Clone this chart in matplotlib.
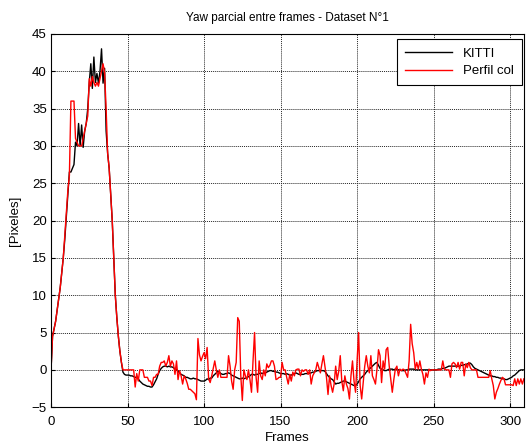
import numpy as np
import matplotlib
matplotlib.use("Agg")
import matplotlib.pyplot as plt

plt.rcParams['font.family'] = ['Liberation Sans', 'DejaVu Sans']

# Yaw per frame (pixels)
kitti = [
    0, 4.5, 5.5, 6.5, 8, 9.5, 11, 13, 15, 17.5,
    20.5, 23.5, 26.5, 26.5, 27, 27.5, 30.5, 30, 33, 30,
    32.8, 29.8, 32, 33, 35, 38.5, 41, 37.7, 41.9, 38.5,
    39.7, 38.4, 40, 43, 38.4, 40.4, 32, 29, 27, 23.5,
    20, 15, 10, 7, 4.5, 2.5, 1, -0.3, -0.6, -0.7,
    -0.7, -0.7, -0.8, -0.8, -0.9, -1, -1, -1.2, -1.5, -1.7,
    -1.9, -2, -2.1, -2.2, -2.2, -2.3, -2.3, -2, -1.6, -1.2,
    -0.6, -0.1, 0.2, 0.4, 0.5, 0.5, 0.4, 0.5, 0.4, 0.4,
    0.3, 0.1, 0.1, -0.2, -0.4, -0.6, -0.7, -0.8, -1, -1,
    -1.1, -1.2, -1.2, -1.1, -1.2, -1.2, -1.3, -1.4, -1.5, -1.5,
    -1.5, -1.4, -1.2, -1.3, -1.1, -1.1, -0.8, -0.6, -0.4, -0.2,
    -0.3, -0.5, -0.6, -0.6, -0.5, -0.5, -0.4, -0.5, -0.7, -0.8,
    -0.9, -1, -1.1, -1.2, -1.2, -1.1, -1.2, -1.1, -1.1, -0.9,
    -0.8, -0.6, -0.6, -0.7, -0.6, -0.6, -0.5, -0.4, -0.5, -0.4,
    -0.4, -0.3, -0.2, -0.1, -0.1, -0.2, -0.2, -0.3, -0.3, -0.4,
    -0.5, -0.5, -0.5, -0.6, -0.5, -0.6, -0.7, -0.7, -0.6, -0.5,
    -0.4, -0.5, -0.6, -0.6, -0.6, -0.6, -0.5, -0.5, -0.5, -0.45,
    -0.4, -0.3, -0.3, -0.2, -0.1, -0.1, -0.1, -0.1, -0.1, -0.2,
    -0.5, -0.8, -1, -1.2, -1.3, -1.6, -1.9, -1.8, -1.8, -1.7,
    -1.6, -1.5, -1.5, -1.6, -1.7, -1.8, -1.9, -2, -2.1, -2.1,
    -1.9, -1.6, -1.2, -1, -0.8, -0.6, -0.3, -0.1, 0.1, 0.3,
    0.5, 0.7, 0.9, 1, 0.6, 0.2, 0.1, 0, -0.1, -0.1,
    0, 0.1, 0.1, 0.1, 0, 0.1, 0.1, 0, 0, -0.1,
    -0.1, -0.1, 0, 0, 0.1, 0.1, 0.1, 0.1, 0, 0,
    0, 0, 0, 0, 0, 0, 0, 0, 0, 0,
    0, 0, 0, 0.1, 0.1, 0.1, 0.2, 0.2, 0.3, 0.4,
    0.5, 0.5, 0.5, 0.5, 0.5, 0.5, 0.5, 0.5, 0.6, 0.6,
    0.7, 0.7, 0.8, 0.9, 0.9, 0.7, 0.4, 0.2, 0.1, 0,
    -0.1, -0.2, -0.3, -0.4, -0.5, -0.6, -0.7, -0.8, -0.8, -0.9,
    -0.9, -1, -1, -1.1, -1.1, -1.2, -1.2, -1.3, -1.3, -1.2,
    -1.1, -1, -0.8, -0.7, -0.5, -0.3, -0.1, 0, 0, 0,
]

perfil = [
    0, 4.5, 5.5, 6.5, 8, 9.5, 11, 13, 15, 18,
    21, 24, 26, 36, 36, 36, 31, 30.5, 30, 30,
    30, 31, 32, 33, 34, 39, 38, 39.3, 38.5, 38,
    38.5, 38, 39, 40, 41, 39.8, 35, 29, 27, 23.5,
    20, 15, 10, 7, 4.5, 2.5, 1, 0, 0, 0,
    0, 0, 0, 0, 0, -2.3, -0.5, -1.5, 0, 0,
    0, -1, -1, -1, -1.5, -1.5, -2.1, -1, -1, -0.6,
    -0.6, 0.5, 1, 1, 1.2, 0.5, 1, 1.9, 0.5, 1.2,
    0.8, -0.6, 1.2, -1.3, -0.1, -0.8, -1.9, -0.8, -1.2, -1.8,
    -2.6, -2.6, -2.8, -3, -3.2, -4, 4.2, 2, 1.2, 1.8,
    2.3, 1.5, 3, -1.2, -1.7, -0.8, 0.2, 1.2, 0, -1,
    0, -1, -1, -1, -1, -1, 1.9, 0.5, -1.5, -2.6,
    0, 1, 7, 6.5, -0.8, -4.1, 0, -0.8, -1.3, 0,
    -1.3, -3, 1.2, 5, -1, -3, 1.2, -0.8, -1.3, 0,
    -0.8, 0.8, 0.3, 0.6, 1.2, 1.2, 0.5, -1.3, -1.2, -1,
    -1, 1, 0, 0, -1, -1.9, -0.6, -1.5, -0.3, -0.8,
    0, 0.1, 0.1, -0.8, 0, -0.2, 0, 0, -0.6, 0,
    -1.9, -0.8, -0.4, 0, 1, 0.3, -0.4, 0.8, 1.9, 0.5,
    -1, -3.3, -0.8, -2.1, -3, -1.9, 0.5, -1.3, -0.2, 1.9,
    -1.5, -2.8, -0.8, -1.9, -2.5, -3.9, -0.8, 1.2, -1.5, -3,
    1.2, 5, -2.1, -3.9, -1.7, 0.5, 1.9, 0.5, -0.4, 1.9,
    -0.8, -1.3, -1.9, 0.1, 2.7, 1.9, -1.7, 1.2, 0.1, 2.7,
    3, 0.5, -1.3, -3, -1.3, 0.1, 0.5, -0.8, 0.1, -0.1,
    0.1, 0, -0.5, -1, 1.2, 6.1, 3.5, 2.3, 0.1, 1,
    0.1, 1.2, 0.1, -0.6, -1.9, -0.4, -1, 0.1, -0.1, 0,
    0, 0, 0, 0, 0, 0, 1.2, 0.1, 0, 0,
    0, -1, 0.8, 1, 0.8, 0.3, 1, 0.1, 1, 1,
    -0.8, 0.8, 0.3, 1, 0.3, 0, 0, 0, 0, -1,
    -1, -1, -1, -1, -1, -1, -1, -0.1, -1.2, -2.1,
    -3.9, -3, -2.5, -1.9, -1.4, -1, -1.2, -2, -2, -2,
    -2, -2, -2.1, -1.2, -2.1, -1.2, -1.9, -1.2, -1.9, -1.2,
]

frames = np.arange(len(kitti))

fig = plt.figure(figsize=(5.26, 4.46), dpi=100)
ax = fig.add_axes([0.097, 0.087, 0.899, 0.837])

ax.plot(frames, kitti, color='k', linewidth=1.0, label='KITTI')
ax.plot(frames, perfil, color='r', linewidth=1.0, label='Perfil col')

ax.set_xlim(0, 309)
ax.set_ylim(-5, 45)
ax.set_xticks(np.arange(0, 301, 50))
ax.set_yticks(np.arange(-5, 46, 5))

ax.grid(True, color='0.15', linestyle=(0, (1, 1)), linewidth=0.7)
ax.tick_params(direction='in', labelsize=9.5, length=3, top=False, right=False)
ax.tick_params(axis='x', pad=6)
ax.tick_params(axis='y', pad=3)
for s in ax.spines.values():
    s.set_linewidth(0.8)

ax.set_title('Yaw parcial entre frames - Dataset N°1', fontsize=8.5, pad=9)
ax.set_xlabel('Frames', fontsize=9.5, labelpad=3)
ax.set_ylabel('[Pixeles]', fontsize=9.5, labelpad=8)

leg = ax.legend(loc='upper right', fontsize=9.5, fancybox=False, framealpha=1,
                edgecolor='k', bbox_to_anchor=(0.995, 0.985), borderaxespad=0,
                handlelength=3.6, borderpad=0.6, labelspacing=0.4)
leg.get_frame().set_linewidth(0.8)

plt.savefig('out.png', dpi=100)
